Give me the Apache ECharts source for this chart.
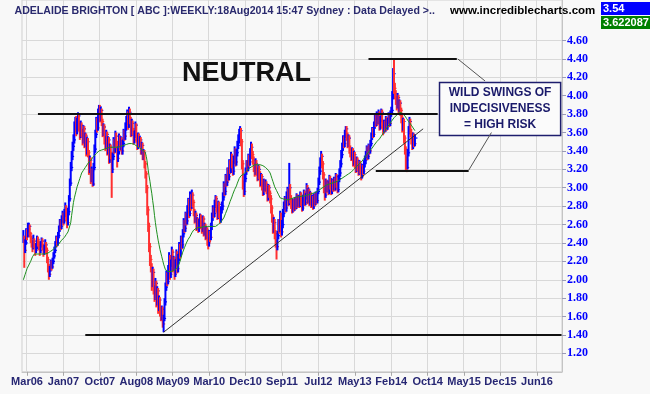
<!DOCTYPE html>
<html><head><meta charset="utf-8">
<script src="https://cdn.jsdelivr.net/npm/echarts@6/dist/echarts.min.js"></script>
<style>html,body{margin:0;padding:0;background:#f8f8f8}#c{width:650px;height:394px}</style>
</head><body><div id="c"></div>
<script>
// ---- tick labels ----
const tickLabels = ['Mar06','Jan07','Oct07','Aug08','May09','Mar10','Dec10','Sep11','Jul12','May13','Feb14','Oct14','May15','Dec15','Jun16'];
const yTicks = [1.2,1.4,1.6,1.8,2.0,2.2,2.4,2.6,2.8,3.0,3.2,3.4,3.6,3.8,4.0,4.2,4.4,4.6];

// ---- weekly prices (cents) ----
const closes = [245,232,240,252,248,
255,258,250,245,240,236,
242,238,232,236,244,
240,236,232,238,242,236,230,234,238,
232,222,214,206,
212,218,214,220,226,
232,238,244,240,248,
255,262,258,266,270,264,
272,278,268,262,274,
288,305,322,
334,345,352,
366,375,362,370,
378,366,358,368,360,
352,364,348,356,340,350,
338,320,330,310,318,304,322,
342,358,372,365,
380,388,376,384,
372,360,366,352,346,
358,340,352,330,344,336,
320,
334,350,342,356,348,332,340,354,345,
352,340,348,360,356,366,
372,380,368,382,374,360,370,
362,352,358,368,354,346,356,
348,352,340,346,334,338,326,315,
300,276,258,236,222,
214,196,208,190,
182,196,176,188,170,178,166,
160,168,152,158,
176,192,204,198,
212,224,206,218,230,214,
222,206,218,228,212,224,
236,228,242,238,
250,262,256,270,264,276,
284,272,290,280,292,284,
274,266,270,258,264,256,262,268,
260,256,266,252,258,
248,254,242,240,250,246,
258,268,276,272,282,
288,278,270,282,272,266,276,280,
290,302,296,310,306,318,
312,326,320,334,326,318,
330,340,328,338,346,352,
358,362,350,326,304,296,310,
318,326,322,332,328,338,
344,336,330,322,318,
326,318,312,320,314,
306,312,302,296,306,300,
304,298,290,300,294,288,
278,268,256,
262,250,240,236,248,
262,256,270,252,260,
272,280,286,278,290,
296,284,300,288,282,276,
284,278,286,280,290,282,288,
282,292,284,278,288,294,284,
290,300,286,296,284,292,282,288,
280,290,284,292,286,
296,306,318,328,334,326,
314,300,292,306,298,
304,296,310,302,296,306,300,
308,300,312,304,298,310,316,
326,336,344,352,348,358,
364,356,348,354,342,338,
334,340,328,336,326,
320,330,322,316,326,320,
312,322,318,326,330,
336,342,334,344,340,348,
356,362,358,368,376,370,378,
372,380,366,374,382,368,362,
370,364,374,366,
372,378,370,380,384,
400,424,
408,402,
396,390,398,386,392,384,
376,366,372,
354,342,330,322,338,
362,372,360,352,
346,356,348,354];

const highs = [254,248,244,256,255,
262,262,260,252,248,243,
249,245,240,240,248,
247,243,239,242,246,245,239,238,244,
241,235,225,217,
215,222,221,224,230,
236,242,248,247,252,
259,266,265,270,275,273,
277,284,281,271,278,
292,310,328,
340,350,358,
372,377,378,376,
382,381,370,373,371,
364,368,367,360,359,355,
354,341,335,333,323,321,327,
347,363,377,376,
386,390,390,388,
386,375,370,369,356,
363,361,356,355,348,347,
339,
338,355,353,362,360,351,345,359,357,
356,355,352,364,363,371,
378,385,383,388,386,377,375,
373,365,362,372,370,357,360,
359,356,355,350,349,342,341,329,
318,303,280,262,240,
227,218,214,212,
194,202,199,193,191,183,181,
170,172,171,162,
180,197,210,208,
216,230,227,222,236,233,
226,225,222,233,231,228,
241,239,248,247,
255,267,265,274,273,281,
289,288,296,293,298,295,
287,277,275,273,268,267,266,272,
271,264,270,269,262,
261,258,257,246,254,253,
262,273,281,279,287,
292,291,281,286,285,275,280,285,
295,307,305,315,314,322,
322,331,330,339,337,329,
335,345,343,342,351,358,
364,367,365,353,330,308,315,
322,330,330,337,336,343,
350,348,340,334,327,
332,330,322,325,324,
318,316,315,306,310,309,
309,307,302,304,303,297,
292,281,271,
268,266,254,244,253,
266,266,275,273,265,
277,285,291,290,296,
301,299,327,304,292,286,
288,288,290,290,294,293,292,
291,296,295,288,292,298,297,
294,305,303,300,299,296,295,292,
291,294,293,296,295,
300,311,323,333,340,337,
329,317,303,310,309,
308,307,314,313,305,310,309,
312,311,316,315,307,314,321,
330,341,349,357,356,363,
367,367,360,358,357,346,
342,344,343,340,339,
329,334,333,326,330,329,
323,326,325,330,335,
340,346,345,348,347,352,
360,366,365,372,380,379,383,
381,385,383,378,386,385,371,
374,373,378,377,
376,382,381,384,388,
405,430,
439,414,
406,400,403,401,396,395,
387,379,376,
375,357,345,334,342,
367,377,375,364,
356,360,359,358];

const lows = [240,213,229,238,243,
246,252,246,240,235,230,
233,234,226,229,233,
236,232,226,229,235,232,225,227,231,
228,218,208,200,
203,209,210,212,217,
223,229,235,236,237,
245,252,254,255,262,259,
261,268,264,256,259,
270,285,302,
318,330,340,
348,360,356,358,
365,361,352,354,355,
346,348,343,344,334,336,
333,314,316,304,306,301,302,
319,338,354,360,
362,376,371,372,
367,355,356,347,340,
342,335,336,326,327,331,
289,
316,330,337,338,343,322,328,336,340,
341,336,336,344,351,352,
362,368,363,365,369,355,356,
357,347,348,354,349,341,342,
344,344,336,336,330,330,321,310,
294,270,252,230,215,
208,188,192,184,
176,178,170,172,163,166,160,
155,156,148,143,
155,172,188,193,
195,208,200,202,214,208,
210,200,203,214,207,208,
220,223,225,233,
234,246,251,252,259,260,
272,267,269,275,277,279,
269,261,262,253,254,251,252,258,
255,250,252,247,248,
243,244,237,233,236,241,
243,254,264,267,268,
278,273,265,266,267,261,262,272,
276,286,291,292,301,302,
307,308,315,316,321,313,
314,326,323,324,334,342,
348,354,345,320,298,290,292,
306,314,317,318,323,324,
334,331,325,317,312,
314,313,307,308,309,
301,302,297,291,292,295,
296,293,285,286,289,283,
272,262,250,
251,244,235,222,232,
244,250,252,246,248,
256,268,276,273,274,
286,280,281,283,277,272,
273,274,275,276,277,278,279,
278,279,280,274,275,285,280,
281,287,282,283,280,281,278,279,
276,277,280,281,282,
283,293,303,314,324,321,
309,294,286,289,294,
295,292,293,298,292,293,296,
297,296,297,300,294,295,306,
312,322,332,340,343,344,
354,351,343,344,337,333,
329,330,323,324,321,
316,317,318,313,314,315,
308,310,314,315,322,
326,332,330,331,336,337,
345,352,354,355,364,366,367,
368,369,362,363,371,364,357,
359,360,361,362,
363,369,366,367,377,
380,396,
402,396,
390,384,386,381,382,378,
370,360,362,
348,336,318,317,320,
334,358,355,347,
341,342,344,345];

// ---- moving average (cents) ----
const movingAvg = [200,203,206,209,212,214,
216,218,220,222,225,227,
228,228,228,228,228,228,228,
228,228,228,228,228,228,228,228,
229,229,230,231,232,232,233,
234,235,236,237,238,239,240,
241,243,244,245,246,248,249,251,
252,253,254,
262,270,277,284,
289,293,297,301,
304,307,310,313,316,
318,319,321,322,324,325,
326,328,329,330,331,333,334,
335,336,337,338,339,340,341,
341,341,342,342,342,343,343,343,
343,344,344,344,344,344,
344,344,344,344,344,344,344,344,
345,345,345,346,346,347,347,
347,347,348,348,348,348,348,
348,347,347,346,345,345,344,
343,342,342,341,340,339,338,
334,328,320,
313,307,300,294,
286,279,270,262,
255,249,243,238,233,
229,225,221,217,214,211,
210,209,209,
209,209,209,210,210,210,211,211,212,213,214,
217,220,223,227,230,
232,235,237,240,242,244,
246,247,249,251,252,254,255,
255,256,256,256,257,257,257,257,258,258,258,
258,258,258,258,258,258,258,258,258,258,258,
258,259,259,260,261,262,263,264,265,
267,269,272,274,277,279,
282,285,287,290,293,295,298,
300,302,305,307,310,312,
313,314,314,315,316,
317,318,319,320,321,322,
323,323,324,324,325,
325,325,325,325,325,325,325,324,324,
323,323,322,321,320,319,318,316,
313,310,307,304,301,
299,297,295,293,291,289,
288,288,288,287,287,287,287,
287,287,288,288,288,289,289,
289,289,289,290,290,290,290,290,291,291,291,291,291,292,292,
292,292,293,293,293,294,294,295,295,295,296,
297,297,298,299,299,300,300,301,302,302,303,
303,304,304,304,305,305,305,306,306,307,307,307,308,308,309,
310,310,311,312,312,313,314,314,315,315,316,
317,318,319,320,321,322,323,324,325,326,327,
328,329,331,332,333,334,336,337,338,340,341,
342,343,345,346,347,348,350,351,352,353,354,
356,357,359,360,362,363,365,366,
367,369,370,372,373,374,376,377,
378,379,380,381,382,383,
382,381,380,379,378,
376,375,374,372,371,370,
368,367,365,364,362];

// ---- annotation levels (week index, price) ----
const resistance = [[17, 3.80], [456, 3.80]];
const support = [[69, 1.40], [592, 1.40]];
const swingHigh = [[380, 4.40], [477, 4.40]];
const swingLow = [[388, 3.19], [490, 3.19]];
const trendLine = [[155, 1.43], [440, 3.64]];
const connectorTop = [[478, 4.40], [508, 4.16]];
const connectorBottom = [[515, 3.60], [490, 3.19]];
const noteBox = [[458, 4.143], [591, 3.567]];
const neutralPos = [246, 4.246];
const noteText = ['WILD SWINGS OF', 'INDECISIVENESS', '= HIGH RISK'];
const lastPrice = '3.54';
const lastAvg = '3.622087';
const titleText = 'ADELAIDE BRIGHTON [ ABC ]:WEEKLY:18Aug2014 15:47 Sydney : Data Delayed >..';

// ---- layout ----
const N_CAT = 593, DATA_START = 1, LABEL_START = 5, LABEL_STEP = 40;
const categories = Array.from({length: N_CAT}, (_, i) => String(i));
const isLabel = (i) => i >= LABEL_START && (i - LABEL_START) % LABEL_STEP === 0 && (i - LABEL_START) / LABEL_STEP < tickLabels.length;

const BLUE = '#0000ff', RED = '#ff3030';
const barData = closes.map((c, k) => [k + DATA_START, lows[k] / 100, highs[k] / 100, c / 100, (k ? closes[k - 1] : c) / 100]);
const maData = movingAvg.map((v, k) => [k + DATA_START, v / 100]);

const splitColors = [];
for (let i = 0; i < 22; i++) splitColors.push(i <= 18 ? '#d9d9d9' : 'rgba(0,0,0,0)');

const seg = (pts, style) => [{coord: pts[0], lineStyle: style}, {coord: pts[1]}];
const thick = {color: '#111', width: 2, type: 'solid'};
const thin = {color: '#333', width: 1, type: 'solid'};
const conn = {color: '#555', width: 1, type: 'solid'};

const chart = echarts.init(document.getElementById('c'), null, {renderer: 'canvas'});
chart.setOption({
  animation: false,
  backgroundColor: '#f8f8f8',
  grid: {left: 22, right: 88, top: 0, bottom: 22.2, show: true, borderColor: '#cfcfcf', borderWidth: 1, backgroundColor: 'transparent'},
  xAxis: {
    type: 'category', data: categories, boundaryGap: true,
    axisLine: {show: true, lineStyle: {color: '#c4c4c4'}},
    axisTick: {show: true, alignWithLabel: true, length: 4, interval: (i) => isLabel(i), lineStyle: {color: '#a8a8a8'}},
    axisLabel: {interval: (i) => isLabel(i), formatter: (v, i) => isLabel(i) ? tickLabels[(i - LABEL_START) / LABEL_STEP] : '',
      color: '#262673', fontWeight: 'bold', fontSize: 11, fontFamily: '"Liberation Sans", Arial, sans-serif', margin: 5},
    splitLine: {show: true, interval: (i) => isLabel(i), lineStyle: {color: '#d9d9d9'}}
  },
  yAxis: {
    type: 'value', position: 'right', min: 1.0, max: 5.04, interval: 0.2,
    axisLine: {show: true, lineStyle: {color: '#c4c4c4'}},
    axisTick: {show: true, length: 4, customValues: yTicks, lineStyle: {color: '#9a9ab8'}},
    axisLabel: {customValues: yTicks, formatter: (v) => (v > 1.1 && v < 4.7) ? v.toFixed(2) : '',
      color: '#0000ff', fontWeight: 'bold', fontSize: 12, fontFamily: '"Liberation Serif", "Times New Roman", serif', margin: 5},
    splitLine: {show: true, lineStyle: {color: splitColors}}
  },
  series: [
    {
      type: 'custom', silent: true, data: barData, encode: {x: 0, y: [1, 2]},
      renderItem: (params, api) => {
        const i = api.value(0);
        const pHi = api.coord([i, api.value(2)]);
        const pLo = api.coord([i, api.value(1)]);
        const pC = api.coord([i, api.value(3)]);
        const col = api.value(3) >= api.value(4) ? BLUE : RED;
        return {type: 'group', children: [
          {type: 'rect', shape: {x: pHi[0] - 1, y: pHi[1], width: 2, height: Math.max(1, pLo[1] - pHi[1])}, style: {fill: col}},
          {type: 'rect', shape: {x: pHi[0] + 1, y: pC[1] - 0.6, width: 1.5, height: 1.2}, style: {fill: col}}
        ]};
      }
    },
    {
      type: 'line', data: maData, symbol: 'none', silent: true,
      lineStyle: {color: '#1f8f1f', width: 1},
      markLine: {
        silent: true, symbol: ['none', 'none'], label: {show: false},
        data: [seg(resistance, thick), seg(support, thick), seg(swingHigh, thick), seg(swingLow, thick),
               seg(trendLine, thin), seg(connectorTop, conn), seg(connectorBottom, conn)]
      },
      markArea: {
        silent: true,
        itemStyle: {color: '#fbfbfb', borderColor: '#1e1e6e', borderWidth: 1.5},
        label: {show: true, position: 'inside', formatter: noteText.join('\n'), color: '#1a1a6a', fontWeight: 'bold', fontSize: 12, lineHeight: 16,
          fontFamily: '"Liberation Sans", Arial, sans-serif', align: 'center'},
        data: [[{coord: noteBox[0]}, {coord: noteBox[1]}]]
      },
      markPoint: {
        silent: true, symbol: 'circle', symbolSize: 0,
        label: {show: true, position: 'inside', formatter: 'NEUTRAL', color: '#111', fontWeight: 'bold', fontSize: 27,
          fontFamily: '"Liberation Sans", Arial, sans-serif'},
        data: [{coord: neutralPos}]
      }
    }
  ],
  graphic: [
    {type: 'text', x: 14.5, y: 11, z: 100, style: {text: titleText, font: 'bold 10.6px "Liberation Sans", Arial, sans-serif', fill: '#2a2a6e', verticalAlign: 'middle'}},
    {type: 'text', x: 450, y: 11, z: 100, style: {text: 'www.incrediblecharts.com', font: 'bold 11.5px "Liberation Sans", Arial, sans-serif', fill: '#000', verticalAlign: 'middle'}},
    {type: 'rect', z: 100, shape: {x: 601, y: 2, width: 49, height: 13}, style: {fill: '#0000ff'}},
    {type: 'text', x: 603, y: 8.5, z: 101, style: {text: lastPrice, font: 'bold 11px "Liberation Sans", Arial, sans-serif', fill: '#fff', verticalAlign: 'middle'}},
    {type: 'rect', z: 100, shape: {x: 601, y: 16, width: 49, height: 13}, style: {fill: '#008000'}},
    {type: 'text', x: 603, y: 22.5, z: 101, style: {text: lastAvg, font: 'bold 11px "Liberation Sans", Arial, sans-serif', fill: '#fff', verticalAlign: 'middle'}}
  ]
});
</script>
</body></html>
